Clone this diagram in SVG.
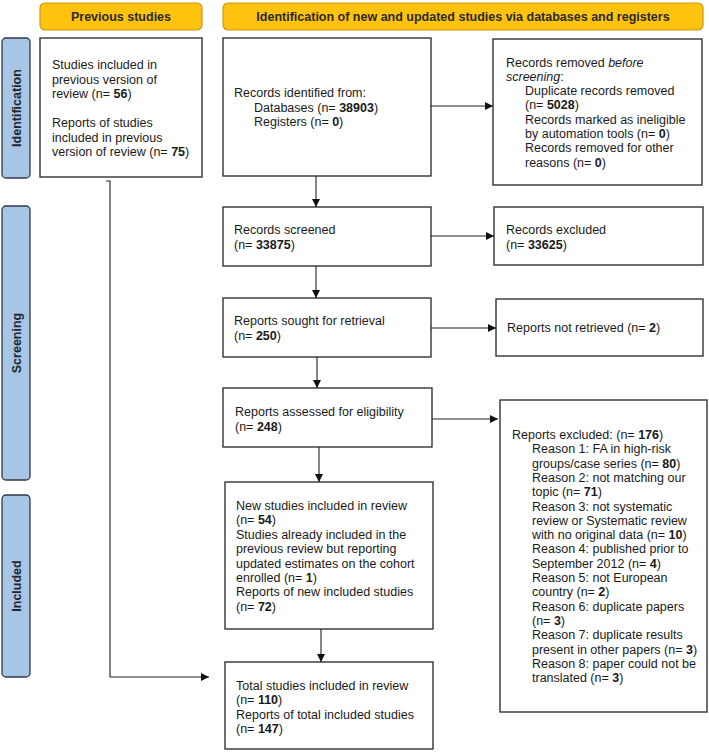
<svg xmlns="http://www.w3.org/2000/svg" width="709" height="752" viewBox="0 0 709 752">
<defs>
<marker id="ah" viewBox="0 0 10 10" refX="10" refY="5" markerWidth="8" markerHeight="8" markerUnits="userSpaceOnUse" orient="auto">
<path d="M0,0 L10,5 L0,10 z" fill="#111"/>
</marker>
<style>
.hdr{fill:#FFC20E;stroke:#C99A10;stroke-width:1.2}
.hdrt{font-family:"Liberation Sans",Arial,sans-serif;font-size:12.5px;font-weight:bold;fill:#2b2b2b;text-anchor:middle}
.ph{fill:#A7C6E6;stroke:#2E3A48;stroke-width:1.3}
.pht{font-family:"Liberation Sans",Arial,sans-serif;font-size:12.5px;font-weight:bold;fill:#1e2630;text-anchor:middle}
.box{fill:#fff;stroke:#333;stroke-width:1.4}
.t{font-family:"Liberation Sans",Arial,sans-serif;font-size:12.5px;fill:#1a1a1a}
.b{font-weight:bold}
.i{font-style:italic}
.c{fill:none;stroke:#222;stroke-width:1.1}
</style>
</defs>
<rect width="709" height="752" fill="#fff"/>

<g id="header-previous">
<rect class="hdr" x="40" y="3" width="162" height="27" rx="5"/>
<text class="hdrt" x="121" y="21">Previous studies</text>
</g>
<g id="header-new">
<rect class="hdr" x="223" y="3" width="480" height="27" rx="5"/>
<text class="hdrt" x="463" y="21">Identification of new and updated studies via databases and registers</text>
</g>

<g id="phase-identification">
<rect class="ph" x="2" y="38" width="28" height="140" rx="4"/>
<text class="pht" transform="translate(20.5,108) rotate(-90)">Identification</text>
</g>
<g id="phase-screening">
<rect class="ph" x="2" y="206" width="28" height="274" rx="4"/>
<text class="pht" transform="translate(20.5,343) rotate(-90)">Screening</text>
</g>
<g id="phase-included">
<rect class="ph" x="2" y="495" width="28" height="182" rx="4"/>
<text class="pht" transform="translate(20.5,586) rotate(-90)">Included</text>
</g>

<g id="previous">
<rect class="box" x="40" y="38" width="162" height="139"/>
<text class="t" x="52" y="69">Studies included in</text>
<text class="t" x="52" y="83.5">previous version of</text>
<text class="t" x="52" y="98">review (n= <tspan class="b">56</tspan>)</text>
<text class="t" x="52" y="127">Reports of studies</text>
<text class="t" x="52" y="141.5">included in previous</text>
<text class="t" x="52" y="156">version of review (n= <tspan class="b">75</tspan>)</text>
</g>

<g id="identified">
<rect class="box" x="223" y="38" width="208" height="138"/>
<text class="t" x="234" y="97">Records identified from:</text>
<text class="t" x="254" y="111.5">Databases (n= <tspan class="b">38903</tspan>)</text>
<text class="t" x="254" y="126">Registers (n= <tspan class="b">0</tspan>)</text>
</g>

<g id="removed">
<rect class="box" x="493" y="39" width="209" height="146"/>
<text class="t" x="506" y="66.5">Records removed <tspan class="i">before</tspan></text>
<text class="t" x="506" y="80.8"><tspan class="i">screening</tspan>:</text>
<text class="t" x="525" y="95.1">Duplicate records removed</text>
<text class="t" x="525" y="109.4">(n= <tspan class="b">5028</tspan>)</text>
<text class="t" x="525" y="123.7">Records marked as ineligible</text>
<text class="t" x="525" y="138">by automation tools (n= <tspan class="b">0</tspan>)</text>
<text class="t" x="525" y="152.3">Records removed for other</text>
<text class="t" x="525" y="166.6">reasons (n= <tspan class="b">0</tspan>)</text>
</g>

<g id="screened">
<rect class="box" x="223" y="207" width="208" height="59"/>
<text class="t" x="234" y="234">Records screened</text>
<text class="t" x="234" y="249">(n= <tspan class="b">33875</tspan>)</text>
</g>

<g id="excluded">
<rect class="box" x="494" y="207" width="209" height="58"/>
<text class="t" x="506" y="234">Records excluded</text>
<text class="t" x="506" y="249">(n= <tspan class="b">33625</tspan>)</text>
</g>

<g id="sought">
<rect class="box" x="223" y="298" width="208" height="59"/>
<text class="t" x="234" y="325">Reports sought for retrieval</text>
<text class="t" x="234" y="340">(n= <tspan class="b">250</tspan>)</text>
</g>

<g id="not-retrieved">
<rect class="box" x="496" y="299" width="207" height="57"/>
<text class="t" x="507" y="332">Reports not retrieved (n= <tspan class="b">2</tspan>)</text>
</g>

<g id="assessed">
<rect class="box" x="223" y="388" width="209" height="59"/>
<text class="t" x="235" y="416">Reports assessed for eligibility</text>
<text class="t" x="235" y="430.5">(n= <tspan class="b">248</tspan>)</text>
</g>

<g id="reports-excluded">
<rect class="box" x="500" y="400" width="207" height="312"/>
<text class="t" x="512" y="439">Reports excluded: (n= <tspan class="b">176</tspan>)</text>
<text class="t" x="532" y="453.3">Reason 1: FA in high-risk</text>
<text class="t" x="532" y="467.6">groups/case series (n= <tspan class="b">80</tspan>)</text>
<text class="t" x="532" y="481.9">Reason 2: not matching our</text>
<text class="t" x="532" y="496.2">topic (n= <tspan class="b">71</tspan>)</text>
<text class="t" x="532" y="510.5">Reason 3: not systematic</text>
<text class="t" x="532" y="524.8">review or Systematic review</text>
<text class="t" x="532" y="539.1">with no original data (n= <tspan class="b">10</tspan>)</text>
<text class="t" x="532" y="553.4">Reason 4: published prior to</text>
<text class="t" x="532" y="567.7">September 2012 (n= <tspan class="b">4</tspan>)</text>
<text class="t" x="532" y="582">Reason 5: not European</text>
<text class="t" x="532" y="596.3">country (n= <tspan class="b">2</tspan>)</text>
<text class="t" x="532" y="610.6">Reason 6: duplicate papers</text>
<text class="t" x="532" y="624.9">(n= <tspan class="b">3</tspan>)</text>
<text class="t" x="532" y="639.2">Reason 7: duplicate results</text>
<text class="t" x="532" y="653.5">present in other papers (n= <tspan class="b">3</tspan>)</text>
<text class="t" x="532" y="667.8">Reason 8: paper could not be</text>
<text class="t" x="532" y="682.1">translated (n= <tspan class="b">3</tspan>)</text>
</g>

<g id="new-included">
<rect class="box" x="225" y="482" width="208" height="147"/>
<text class="t" x="236" y="510">New studies included in review</text>
<text class="t" x="236" y="524.4">(n= <tspan class="b">54</tspan>)</text>
<text class="t" x="236" y="538.8">Studies already included in the</text>
<text class="t" x="236" y="553.2">previous review but reporting</text>
<text class="t" x="236" y="567.6">updated estimates on the cohort</text>
<text class="t" x="236" y="582">enrolled (n= <tspan class="b">1</tspan>)</text>
<text class="t" x="236" y="596.4">Reports of new included studies</text>
<text class="t" x="236" y="610.8">(n= <tspan class="b">72</tspan>)</text>
</g>

<g id="total">
<rect class="box" x="225" y="662" width="208" height="87"/>
<text class="t" x="236" y="690">Total studies included in review</text>
<text class="t" x="236" y="704.3">(n= <tspan class="b">110</tspan>)</text>
<text class="t" x="236" y="718.6">Reports of total included studies</text>
<text class="t" x="236" y="732.9">(n= <tspan class="b">147</tspan>)</text>
</g>

<g id="connectors">
<line class="c" x1="431" y1="106" x2="493" y2="106" marker-end="url(#ah)"/>
<line class="c" x1="431" y1="236" x2="494" y2="236" marker-end="url(#ah)"/>
<line class="c" x1="431" y1="328" x2="496" y2="328" marker-end="url(#ah)"/>
<line class="c" x1="432" y1="419" x2="498" y2="419" marker-end="url(#ah)"/>
<line class="c" x1="316" y1="176" x2="316" y2="207" marker-end="url(#ah)"/>
<line class="c" x1="316" y1="266" x2="316" y2="298" marker-end="url(#ah)"/>
<line class="c" x1="317" y1="357" x2="317" y2="388" marker-end="url(#ah)"/>
<line class="c" x1="319" y1="447" x2="319" y2="482" marker-end="url(#ah)"/>
<line class="c" x1="321" y1="629" x2="321" y2="662" marker-end="url(#ah)"/>
<polyline class="c" points="106,181 110,181 110,677 209,677" marker-end="url(#ah)"/>
</g>
</svg>
